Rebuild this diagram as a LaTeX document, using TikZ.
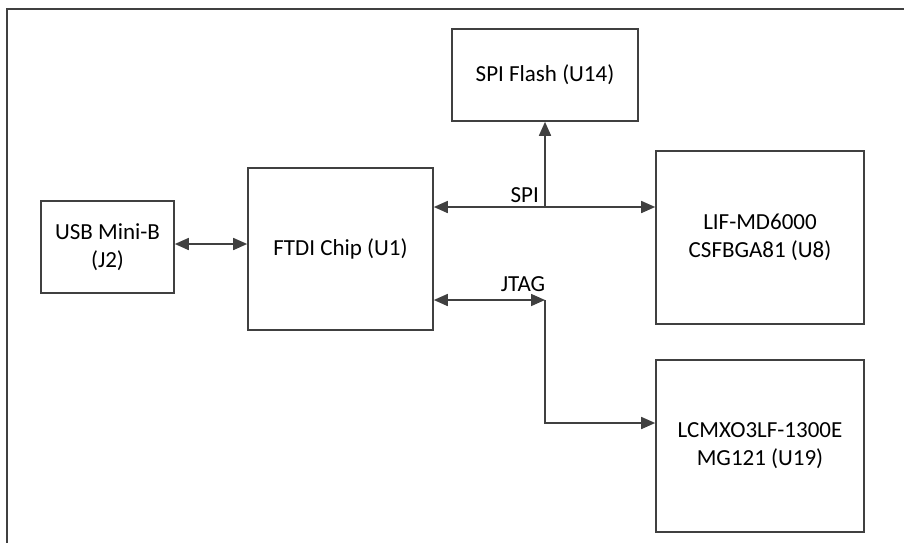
\documentclass[tikz,border=0pt]{standalone}
\usepackage{fontspec}
\setmainfont{Carlito}
\usetikzlibrary{arrows.meta}
\definecolor{lc}{HTML}{404040}
\begin{document}
\begin{tikzpicture}[x=1pt,y=-1pt,
  box/.style={draw=lc, line width=1.6pt, fill=white, inner sep=0pt, align=center,
    font=\fontsize{23}{28}\selectfont},
  conn/.style={draw=lc, line width=1.6pt},
  lbl/.style={inner sep=0pt, font=\fontsize{23}{28}\selectfont},
  tipa/.tip={Triangle[length=14pt,width=12pt]}
]
\useasboundingbox (0,0) rectangle (904,542);
\clip (0,0) rectangle (904,542);
\draw[lc, line width=1.8pt] (7,560) -- (7,9) -- (920,9);

\node[box, minimum width=133pt, minimum height=92pt] (usb) at (107.5,247) {USB Mini-B\\(J2)};
\node[box, minimum width=185pt, minimum height=162pt] (ftdi) at (340.5,249) {FTDI Chip (U1)};
\node[box, minimum width=186pt, minimum height=92pt] (flash) at (545,75) {SPI Flash (U14)};
\node[box, minimum width=208pt, minimum height=173pt] (lif) at (760,237.5) {LIF-MD6000\\CSFBGA81 (U8)};
\node[box, minimum width=208pt, minimum height=172pt] (lcm) at (760,446) {LCMXO3LF-1300E\\MG121 (U19)};

\coordinate (ua) at (174,244);
\draw[conn, tipa-tipa] (usb.east |- ua) -- (ftdi.west |- ua);

\coordinate (spij) at (545,207);
\draw[conn, tipa-tipa] (ftdi.east |- spij) -- (lif.west |- spij);
\draw[conn, -tipa] (spij) -- (flash.south);
\node[lbl, anchor=base east] (spil) at (539,202) {SPI};

\coordinate (jt) at (545,300);
\coordinate (jb) at (545,423);
\draw[conn, tipa-tipa] (ftdi.east |- jt) -- (jt);
\draw[conn, -tipa] (jt) -- (jb) -- (lcm.west |- jb);
\node[lbl, anchor=base] (jtl) at (523,291) {JTAG};
\end{tikzpicture}
\end{document}
